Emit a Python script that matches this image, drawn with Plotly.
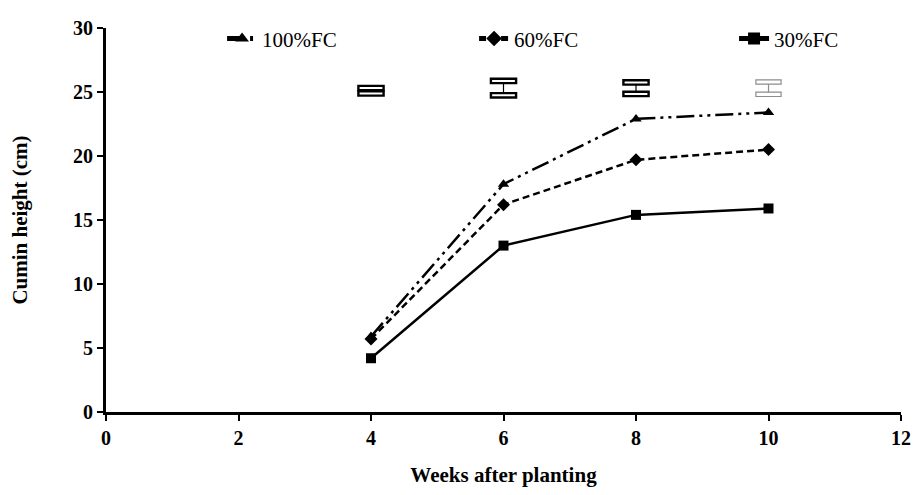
import plotly.graph_objects as go

weeks = [4, 6, 8, 10]
fc100 = [5.9, 17.8, 22.9, 23.4]
fc60 = [5.7, 16.2, 19.7, 20.5]
fc30 = [4.2, 13.0, 15.4, 15.9]

lsd_x = [4, 6, 8, 10]
lsd_y = [25.1, 25.3, 25.3, 25.3]
lsd_half = [0.21, 0.56, 0.45, 0.48]
lsd_colors = ["black", "black", "black", "#8c8c8c"]
lsd_lw = [2.4, 2.4, 2.4, 1.2]

series_names = ["100%FC", "60%FC", "30%FC"]
x_ticks = [0, 2, 4, 6, 8, 10, 12]
y_ticks = [0, 5, 10, 15, 20, 25, 30]

FONT = "Liberation Serif"

fig = go.Figure()

styles = [
    (fc100, "triangle-up", "18px,5px,3px,5px,3px,5px", "legend"),
    (fc60, "diamond", "7px,4px", "legend2"),
    (fc30, "square", "solid", "legend3"),
]
for name, (vals, sym, dash, leg) in zip(series_names, styles):
    fig.add_trace(go.Scatter(
        x=weeks, y=vals, name=name, mode="lines+markers", legend=leg,
        line=dict(color="black", width=2.5, dash=dash),
        marker=dict(symbol=sym, size=10, color="black"),
    ))

# LSD bars: stems via error bars, caps as outlined rectangles
cap_w = 0.19
cap_h = 0.17
for xv, yv, hv, col, lw in zip(lsd_x, lsd_y, lsd_half, lsd_colors, lsd_lw):
    fig.add_trace(go.Scatter(
        x=[xv], y=[yv], mode="markers", showlegend=False,
        marker=dict(size=1, color="rgba(0,0,0,0)"),
        error_y=dict(type="data", array=[hv], visible=True, color=col,
                     thickness=1.2, width=0),
        hoverinfo="skip",
    ))
    for sgn in (1, -1):
        c = yv + sgn * hv
        fig.add_shape(type="rect", xref="x", yref="y",
                      x0=xv - cap_w, x1=xv + cap_w, y0=c - cap_h, y1=c + cap_h,
                      line=dict(color=col, width=lw), fillcolor="white")

leg_common = dict(orientation="h", y=1.025, xanchor="left", yanchor="top",
                  font=dict(family=FONT, size=21),
                  bgcolor="rgba(0,0,0,0)", itemsizing="constant")

fig.update_layout(
    width=903, height=479,
    margin=dict(l=98, r=10, t=14, b=75),
    paper_bgcolor="white", plot_bgcolor="white",
    font=dict(family=FONT, color="black"),
    legend=dict(x=0.146, **leg_common),
    legend2=dict(x=0.463, **leg_common),
    legend3=dict(x=0.790, **leg_common),
    showlegend=True,
)
fig.update_xaxes(
    range=[0, 12], tickvals=x_ticks, ticktext=[str(t) for t in x_ticks],
    showline=True, linecolor="black", linewidth=3, showgrid=False, zeroline=False,
    ticks="outside", ticklen=6, tickwidth=2, tickcolor="black", automargin=False,
    tickfont=dict(family=FONT, size=20, color="black", weight="bold"),
    title=dict(text="<b>Weeks after planting</b>", font=dict(family=FONT, size=21), standoff=23),
)
fig.update_yaxes(
    range=[0, 30], tickvals=y_ticks, ticktext=[str(t) for t in y_ticks],
    showline=True, linecolor="black", linewidth=3, showgrid=False, zeroline=False,
    ticks="outside", ticklen=6, tickwidth=2, tickcolor="black", automargin=False,
    tickfont=dict(family=FONT, size=20, color="black", weight="bold"),
    title=dict(text="<b>Cumin height (cm)</b>", font=dict(family=FONT, size=21), standoff=46),
)

fig.write_html("out.html")
